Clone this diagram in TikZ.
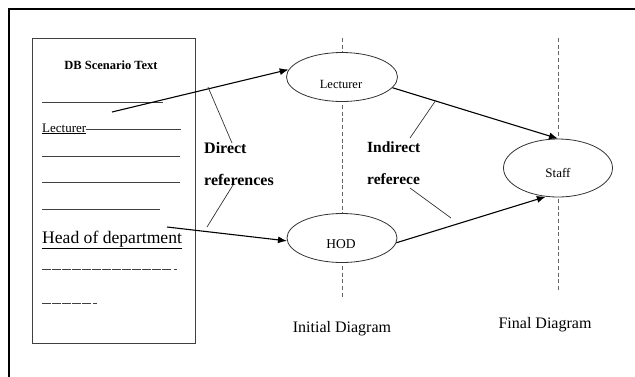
\documentclass[tikz,border=0pt]{standalone}
\usepackage{fontspec}
\setmainfont{Liberation Serif}
\usetikzlibrary{arrows.meta,shapes.geometric}
\tikzset{
  frame/.style={line width=1.8pt,black},
  doc/.style={draw=black!75,line width=0.8pt},
  textline/.style={draw=black!75,line width=1pt},
  dashline/.style={draw=black!75,line width=1pt,dash pattern=on 8.5pt off 1.5pt},
  guide/.style={draw=black!60,line width=0.9pt,dash pattern=on 4pt off 2.7pt},
  ent/.style={ellipse,draw=black!80,line width=0.8pt,fill=white,inner sep=0pt},
  conn/.style={draw=black,line width=1.1pt,-{Latex[length=9pt,width=7pt]}},
  pointer/.style={draw=black!80,line width=0.7pt},
  lbl/.style={inner sep=0pt,anchor=base},
  blbl/.style={inner sep=0pt,anchor=base west,font=\fontsize{16}{18}\selectfont\bfseries}
}
\begin{document}
\begin{tikzpicture}[x=1pt,y=-1pt]
\useasboundingbox (0,0) rectangle (635,376);
% outer frame (only top and left visible)
\coordinate (ftl) at (9,9);
\coordinate (ftr) at (640,9);
\coordinate (fbl) at (9,380);
\draw[frame] (ftr) -- (ftl) -- (fbl);
% document box
\node[doc,draw,minimum width=163,minimum height=305,inner sep=0pt,anchor=north west] (docbox) at (32,38) {};
\node[lbl,font=\fontsize{12.5}{14}\selectfont\bfseries] (title) at (111,69) {DB Scenario Text};
\coordinate (l1a) at (42,102); \coordinate (l1b) at (163,102);
\draw[textline] (l1a) -- (l1b);
\node[lbl,anchor=base west,font=\fontsize{13}{15}\selectfont] (lecttext) at (42,132) {\underline{Lecturer}};
\coordinate (l2a) at (lecttext.east|-0,129); \coordinate (l2b) at (181,129);
\draw[textline] (l2a) -- (l2b);
\coordinate (l3a) at (42,156); \coordinate (l3b) at (180,156);
\draw[textline] (l3a) -- (l3b);
\coordinate (l4a) at (42,182); \coordinate (l4b) at (180,182);
\draw[textline] (l4a) -- (l4b);
\coordinate (l5a) at (42,209); \coordinate (l5b) at (160,209);
\draw[textline] (l5a) -- (l5b);
\node[lbl,anchor=base west,font=\fontsize{17.6}{19}\selectfont] (hodtext) at (42,243) {\underline{Head of department}};
\coordinate (d1a) at (42,269); \coordinate (d1b) at (172,269); \coordinate (d1c) at (174,269); \coordinate (d1d) at (177,269);
\draw[dashline] (d1a) -- (d1b);
\draw[textline] (d1c) -- (d1d);
\coordinate (d2a) at (42,303); \coordinate (d2b) at (91,303); \coordinate (d2c) at (93,303); \coordinate (d2d) at (97,303);
\draw[dashline] (d2a) -- (d2b);
\draw[textline] (d2c) -- (d2d);
% guides
\coordinate (g1t) at (342,38); \coordinate (g1b) at (342,298);
\coordinate (g2t) at (558,38); \coordinate (g2b) at (558,290);
\draw[guide] (g1t) -- (g1b);
\draw[guide] (g2t) -- (g2b);
% entities
\node[ent,minimum width=111,minimum height=49] (lect) at (342,77) {};
\node[lbl,font=\fontsize{12.5}{14}\selectfont] (lectlbl) at (341,88) {Lecturer};
\node[ent,minimum width=110,minimum height=49] (hod) at (342,238) {};
\node[lbl,font=\fontsize{13.5}{15}\selectfont] (hodlbl) at (341,248) {HOD};
\node[ent,minimum width=109,minimum height=58] (staff) at (558,168) {};
\node[lbl,font=\fontsize{13}{15}\selectfont] (stafflbl) at (558,177) {Staff};
% connectors
\coordinate (s1) at (112,112);
\coordinate (s2) at (167,227);
\draw[conn] (s1) -- (lect.172);
\draw[conn] (s2) -- (hod.183);
\draw[conn] (lect.-12) -- (staff.north);
\draw[conn] (hod.-5) -- (staff.-113);
% labels
\node[blbl] (direct) at (204,153) {Direct};
\node[blbl] (refs) at (204,185) {references};
\node[blbl,font=\fontsize{15.5}{18}\selectfont\bfseries] (indirect) at (367,152) {Indirect};
\node[blbl,font=\fontsize{15.5}{18}\selectfont\bfseries] (referece) at (367,184) {referece};
\coordinate (p1a) at (208,87); \coordinate (p1b) at (232,143);
\coordinate (p2a) at (233,185); \coordinate (p2b) at (207,227);
\coordinate (p3a) at (436,100); \coordinate (p3b) at (410,138);
\coordinate (p4a) at (410,188); \coordinate (p4b) at (451,218);
\draw[pointer] (p1a) -- (p1b);
\draw[pointer] (p2a) -- (p2b);
\draw[pointer] (p3a) -- (p3b);
\draw[pointer] (p4a) -- (p4b);
\node[lbl,font=\fontsize{16}{18}\selectfont] (initial) at (342,332) {Initial Diagram};
\node[lbl,font=\fontsize{16}{18}\selectfont] (final) at (545,328) {Final Diagram};
\end{tikzpicture}
\end{document}
